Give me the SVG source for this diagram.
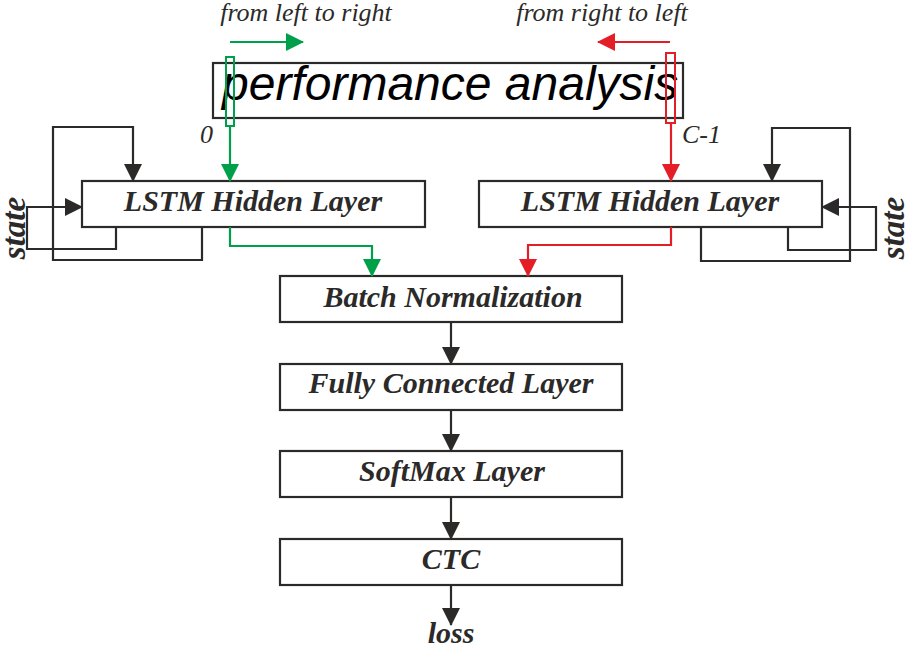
<svg xmlns="http://www.w3.org/2000/svg" width="906" height="648" viewBox="0 0 906 648">
<style>
.box{fill:#fff;stroke:#2b2a29;stroke-width:2.2}
.lbl{font-family:"Liberation Serif",serif;font-weight:bold;font-style:italic;font-size:30px;fill:#2b2a29;text-anchor:middle}
.it{font-family:"Liberation Serif",serif;font-style:italic;font-size:26px;fill:#2b2a29}
.st{font-family:"Liberation Serif",serif;font-weight:bold;font-style:italic;font-size:33px;fill:#2b2a29}
.k{fill:none;stroke:#2b2a29;stroke-width:2.2}
.g{fill:none;stroke:#00a04a;stroke-width:2.2}
.r{fill:none;stroke:#e31e26;stroke-width:2.2}
</style>
<defs>
<marker id="ak" viewBox="0 0 18 18" refX="17" refY="9" markerWidth="18" markerHeight="18" markerUnits="userSpaceOnUse" orient="auto"><path d="M0,0 L18,9 L0,18 z" fill="#2b2a29"/></marker>
<marker id="ag" viewBox="0 0 18 18" refX="17" refY="9" markerWidth="18" markerHeight="18" markerUnits="userSpaceOnUse" orient="auto"><path d="M0,0 L18,9 L0,18 z" fill="#00a04a"/></marker>
<marker id="ar" viewBox="0 0 18 18" refX="17" refY="9" markerWidth="18" markerHeight="18" markerUnits="userSpaceOnUse" orient="auto"><path d="M0,0 L18,9 L0,18 z" fill="#e31e26"/></marker>
</defs>
<rect width="906" height="648" fill="#fff"/>

<g id="labels">
<text class="it" x="306" y="21" text-anchor="middle">from left to right</text>
<text class="it" x="602" y="21" text-anchor="middle">from right to left</text>
<text class="it" x="200" y="143">0</text>
<text class="it" x="682" y="143">C-1</text>
<text class="st" transform="translate(25,228) rotate(-90)" text-anchor="middle">state</text>
<text class="st" transform="translate(904,228) rotate(-90)" text-anchor="middle">state</text>
<text class="lbl" x="451" y="643">loss</text>
</g>

<g id="input">
<rect x="213" y="63" width="470" height="55" fill="#fff" stroke="#2b2a29" stroke-width="2.2"/>
<text x="222" y="100" font-family="Liberation Sans, Arial, sans-serif" font-style="italic" font-size="48" fill="#000">performance analysis</text>
<rect x="226" y="57" width="8" height="69" fill="none" stroke="#00a04a" stroke-width="2"/>
<rect x="666" y="53" width="9" height="70" fill="none" stroke="#e31e26" stroke-width="2"/>
</g>

<g id="lstm-left"><rect class="box" x="82" y="181" width="343" height="46"/><text class="lbl" x="253" y="211">LSTM Hidden Layer</text></g>
<g id="lstm-right"><rect class="box" x="479" y="181" width="343" height="46"/><text class="lbl" x="650" y="211">LSTM Hidden Layer</text></g>
<g id="bn"><rect class="box" x="280" y="276" width="342" height="46"/><text class="lbl" x="453" y="307">Batch Normalization</text></g>
<g id="fc"><rect class="box" x="280" y="364" width="342" height="46"/><text class="lbl" x="451" y="393">Fully Connected Layer</text></g>
<g id="softmax"><rect class="box" x="280" y="451" width="342" height="46"/><text class="lbl" x="452" y="481">SoftMax Layer</text></g>
<g id="ctc"><rect class="box" x="280" y="539" width="342" height="46"/><text class="lbl" x="451" y="569">CTC</text></g>

<g id="connectors">
<path class="g" d="M230,42 H303" marker-end="url(#ag)"/>
<path class="r" d="M670,42 H598" marker-end="url(#ar)"/>
<path class="g" d="M230,126 V181" marker-end="url(#ag)"/>
<path class="r" d="M671,123 V181" marker-end="url(#ar)"/>
<path class="g" d="M230,227 V246 H372 V276" marker-end="url(#ag)"/>
<path class="r" d="M671,227 V245 H528 V276" marker-end="url(#ar)"/>
<path class="k" d="M202,227 V260 H53 V127 H133 V181" marker-end="url(#ak)"/>
<path class="k" d="M116,227 V249 H27 V207 H82" marker-end="url(#ak)"/>
<path class="k" d="M701,227 V261 H850 V128 H772 V181" marker-end="url(#ak)"/>
<path class="k" d="M788,227 V250 H876 V207 H822" marker-end="url(#ak)"/>
<path class="k" d="M451,322 V364" marker-end="url(#ak)"/>
<path class="k" d="M451,410 V451" marker-end="url(#ak)"/>
<path class="k" d="M451,497 V539" marker-end="url(#ak)"/>
<path class="k" d="M451,585 V625" marker-end="url(#ak)"/>
</g>
</svg>
